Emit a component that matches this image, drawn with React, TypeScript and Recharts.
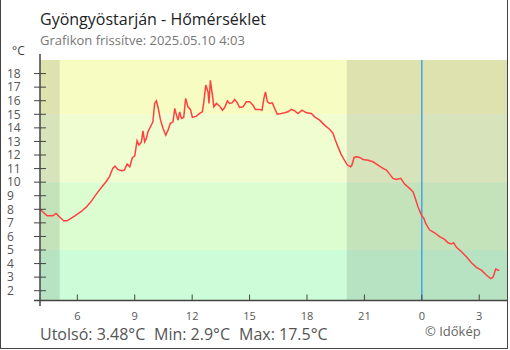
import React from 'react';
import { LineChart, Line, XAxis, YAxis, ReferenceArea, ReferenceLine } from 'recharts';

// time in hours since midnight of the first day (24+ = next day)
const hours = [
  4.05, 4.19, 4.42, 4.71, 4.89, 5.06, 5.29, 5.46, 5.67, 5.93, 6.19, 6.45, 6.71, 6.89, 7.06, 7.29, 7.5, 7.68, 7.85, 7.97,
  8.11, 8.32, 8.46, 8.6, 8.74, 8.88, 9.0, 9.12, 9.22, 9.35, 9.43, 9.52, 9.61, 9.69, 9.82, 9.95, 10.04, 10.13, 10.22, 10.34,
  10.48, 10.62, 10.74, 10.86, 11.0, 11.09, 11.18, 11.26, 11.35, 11.44, 11.56, 11.66, 11.78, 11.91, 12.01, 12.22, 12.39, 12.53, 12.6, 12.71,
  12.83, 12.88, 12.95, 13.06, 13.13, 13.27, 13.44, 13.58, 13.7, 13.84, 13.96, 14.08, 14.22, 14.36, 14.48, 14.66, 14.83, 15.01, 15.18, 15.3,
  15.53, 15.65, 15.75, 15.83, 15.93, 16.05, 16.19, 16.31, 16.45, 16.66, 16.83, 17.01, 17.18, 17.36, 17.53, 17.74, 17.97, 18.23, 18.4, 18.66,
  18.92, 19.19, 19.36, 19.48, 19.62, 19.76, 19.93, 20.11, 20.28, 20.35, 20.46, 20.58, 20.75, 20.93, 21.19, 21.45, 21.71, 21.97, 22.15, 22.32,
  22.49, 22.67, 22.9, 23.1, 23.36, 23.54, 23.66, 23.8, 23.98, 24.11, 24.2, 24.41, 24.67, 24.93, 25.19, 25.37, 25.54, 25.66, 25.81, 26.07,
  26.33, 26.59, 26.85, 27.11, 27.37, 27.6, 27.72, 27.86, 28.05,
];
const temps = [
  8.0, 7.82, 7.52, 7.52, 7.7, 7.45, 7.15, 7.15, 7.33, 7.57, 7.82, 8.14, 8.55, 8.92, 9.25, 9.66, 10.03, 10.4, 11.01, 11.18,
  10.94, 10.84, 10.89, 11.33, 11.13, 11.82, 11.92, 13.05, 12.73, 12.97, 13.78, 12.97, 13.22, 13.71, 14.08, 14.44, 15.8, 15.99, 15.5, 14.62,
  13.96, 13.46, 13.83, 14.33, 14.44, 15.43, 14.94, 14.57, 15.18, 14.69, 14.77, 16.17, 15.55, 15.36, 14.77, 14.86, 15.06, 15.18, 15.8, 17.15,
  16.65, 15.8, 17.5, 16.41, 15.55, 15.8, 15.6, 15.3, 15.5, 15.99, 15.8, 15.84, 16.09, 15.84, 15.5, 15.55, 15.92, 15.92, 15.67, 15.36,
  15.36, 15.3, 16.17, 16.65, 15.92, 15.8, 15.84, 15.43, 15.01, 15.06, 15.11, 15.18, 15.36, 15.25, 15.06, 15.3, 15.11, 15.06, 14.81, 14.57,
  14.2, 13.88, 13.59, 13.1, 12.6, 12.12, 11.67, 11.26, 11.13, 11.26, 11.82, 11.87, 11.82, 11.67, 11.62, 11.5, 11.26, 11.01, 10.89, 10.59,
  10.28, 10.2, 10.28, 9.86, 9.54, 9.29, 8.8, 8.19, 7.57, 7.33, 6.96, 6.47, 6.27, 5.98, 5.78, 5.53, 5.44, 5.53, 5.2, 4.87,
  4.5, 4.06, 3.72, 3.52, 3.16, 2.9, 2.99, 3.6, 3.48,
];

const xDomain = [4.05, 28.45];
const yDomain = [1.28, 19];
const xTicks = [6, 9, 12, 15, 18, 21, 24, 27];
const xTickLabels = ['6', '9', '12', '15', '18', '21', '0', '3'];
const yTicks = [2, 3, 4, 5, 6, 7, 8, 9, 10, 11, 12, 13, 14, 15, 16, 17, 18];
const bandLimits = [1.28, 5, 10, 15, 19];
const bandColors = ['#ccfdd8', '#dcfdd0', '#f0fdd0', '#f6fcc2'];
const nightStarts = [4.05, 20.08];
const nightEnds = [5.08, 28.45];
const midnight = 24;

const title = 'Gyöngyöstarján - Hőmérséklet';
const subtitle = 'Grafikon frissítve: 2025.05.10 4:03';
const unit = '°C';
const statLast = 'Utolsó: 3.48°C';
const statMin = 'Min: 2.9°C';
const statMax = 'Max: 17.5°C';
const credit = '© Időkép';

const data = hours.map((h, i) => ({ h, t: temps[i] }));
const FONT = '"Open Sans", "Noto Sans", sans-serif';

const renderXTick = (props: any) => {
  const { x, y, payload } = props;
  const i = xTicks.indexOf(payload.value);
  return (
    <g key={'xt' + payload.value}>
      <line x1={x} x2={x} y1={y - 6} y2={y} stroke="#444" strokeWidth={1} />
      <text x={x} y={y + 19} textAnchor="middle" fontSize={11} fill="#555" fontFamily={FONT}>
        {i >= 0 ? xTickLabels[i] : String(payload.value)}
      </text>
    </g>
  );
};

const renderYTick = (props: any) => {
  const { x, y, payload } = props;
  return (
    <g key={'yt' + payload.value}>
      <line x1={x - 6} x2={x + 6} y1={y} y2={y} stroke="#444" strokeWidth={1} />
      <text x={x - 33} y={y} dy="0.36em" textAnchor="start" fontSize={12} fill="#555" fontFamily={FONT}>
        {payload.value}
      </text>
    </g>
  );
};

export default function App() {
  return (
    <div style={{ position: 'absolute', left: 0, top: 0, width: 510, height: 350, background: '#fff' }}>
      <LineChart width={510} height={350} data={data} margin={{ top: 60, right: 3, bottom: 19.5, left: 0 }}>
        {bandColors.map((c, i) => (
          <ReferenceArea key={'b' + i} y1={bandLimits[i]} y2={bandLimits[i + 1]} fill={c} fillOpacity={1} stroke="none" ifOverflow="visible" />
        ))}
        {nightStarts.map((s, i) => (
          <ReferenceArea key={'n' + i} x1={s} x2={nightEnds[i]} fill="#000" fillOpacity={0.1} stroke="none" ifOverflow="visible" />
        ))}
        <XAxis
          type="number"
          dataKey="h"
          domain={xDomain}
          ticks={xTicks}
          allowDataOverflow
          height={30}
          tickSize={0}
          tickMargin={0}
          tickLine={false}
          axisLine={{ stroke: '#444', strokeWidth: 1.5 }}
          tick={renderXTick}
          interval={0}
        />
        <YAxis
          type="number"
          domain={yDomain}
          ticks={yTicks}
          allowDataOverflow
          width={40}
          tickSize={0}
          tickMargin={0}
          tickLine={false}
          axisLine={{ stroke: '#444', strokeWidth: 1.5 }}
          tick={renderYTick}
          interval={0}
        />
        <ReferenceLine x={midnight} stroke="#2196f3" strokeWidth={1.2} />
        <Line type="linear" dataKey="t" stroke="#ff4040" strokeWidth={1.5} dot={false} isAnimationActive={false} />
      </LineChart>
      <svg width={510} height={350} style={{ position: 'absolute', left: 0, top: 0, pointerEvents: 'none' }}>
        <line x1={0.5} y1={0} x2={0.5} y2={349} stroke="#444" strokeWidth={1} />
        <line x1={507.5} y1={0} x2={507.5} y2={349} stroke="#444" strokeWidth={1} />
        <line x1={0} y1={348.5} x2={508} y2={348.5} stroke="#444" strokeWidth={1} />
        <line x1={34} y1={300.5} x2={40} y2={300.5} stroke="#444" strokeWidth={1.5} />
        <line x1={40} y1={300.5} x2={40} y2={306} stroke="#444" strokeWidth={1.5} />
        <line x1={40} y1={54} x2={40} y2={60} stroke="#444" strokeWidth={1.5} />
        <text x={40} y={25} fontSize={16} fill="#222" fontFamily={FONT}>{title}</text>
        <text x={40} y={45} fontSize={13} fill="#777" fontFamily={FONT}>{subtitle}</text>
        <text x={12} y={55} fontSize={12} fill="#444" fontFamily={FONT}>{unit}</text>
        <text x={40} y={339.5} fontSize={16} fill="#555" fontFamily={FONT}>{statLast}</text>
        <text x={154} y={339.5} fontSize={16} fill="#555" fontFamily={FONT}>{statMin}</text>
        <text x={239} y={339.5} fontSize={16} fill="#555" fontFamily={FONT}>{statMax}</text>
        <text x={425} y={336} fontSize={13} fill="#666" fontFamily={FONT}>{credit}</text>
      </svg>
    </div>
  );
}
